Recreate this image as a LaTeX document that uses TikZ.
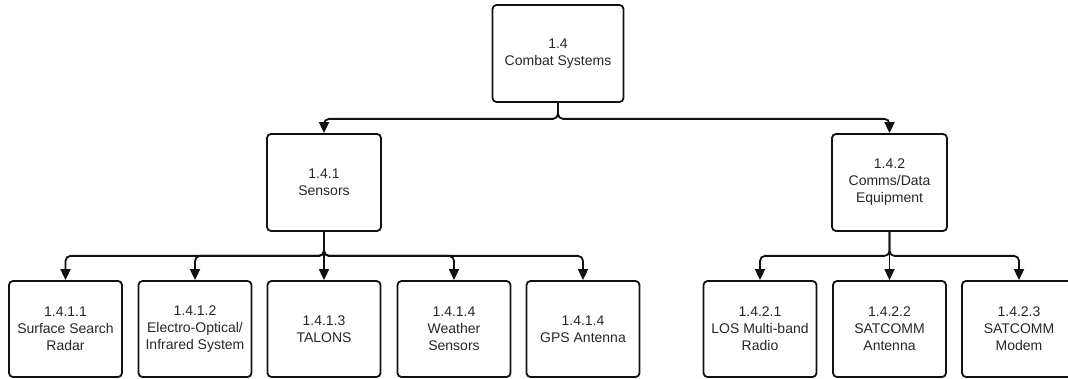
\documentclass[tikz,border=0pt]{standalone}
\usepackage{fontspec}
\setmainfont{Liberation Sans}
\usetikzlibrary{arrows.meta}
\definecolor{textgray}{HTML}{262626}
\definecolor{linecol}{HTML}{111111}
\begin{document}
\begin{tikzpicture}[x=1pt,y=-1pt,
  box/.style={draw=linecol, line width=1.8pt, rounded corners=4pt,
    minimum width=113pt, minimum height=96pt, align=center,
    font=\fontsize{14}{17}\selectfont, text=textgray, inner sep=1pt},
  conn/.style={draw=linecol, line width=1.8pt, rounded corners=5pt,
    -{Triangle[length=11pt,width=10pt]}}]
\useasboundingbox (0,0) rectangle (1068,379);
\clip (0,0) rectangle (1068,379);
% level 0
\node[box, minimum width=131pt, minimum height=97pt] (top) at (558,53.5) {1.4\\Combat Systems};
% level 1
\node[box, minimum width=114pt, minimum height=97pt] (sen) at (324,182.5) {1.4.1\\Sensors};
\node[box, minimum width=115pt, minimum height=97pt] (com) at (889.5,182.5) {1.4.2\\Comms/Data\\Equipment};
% level 2
\node[box] (b1) at (65.5,329) {1.4.1.1\\Surface Search\\Radar};
\node[box] (b2) at (195,329) {1.4.1.2\\Electro-Optical/\\Infrared System};
\node[box] (b3) at (324,329) {1.4.1.3\\TALONS};
\node[box] (b4) at (454,329) {1.4.1.4\\Weather\\Sensors};
\node[box] (b5) at (583,329) {1.4.1.4\\GPS Antenna};
\node[box] (c1) at (760,329) {1.4.2.1\\LOS Multi-band\\Radio};
\node[box] (c2) at (889.5,329) {1.4.2.2\\SATCOMM\\Antenna};
\node[box, minimum width=114pt] (c3) at (1019,329) {1.4.2.3\\SATCOMM\\Modem};
% connectors
\draw[conn] (top.south) -- ++(0,16) -| (sen.north);
\draw[conn] (top.south) -- ++(0,16) -| (com.north);
\draw[conn] (sen.south) -- ++(0,24) -| (b1.north);
\draw[conn] (sen.south) -- ++(0,24) -| (b2.north);
\draw[conn] (sen.south) -- (b3.north);
\draw[conn] (sen.south) -- ++(0,24) -| (b4.north);
\draw[conn] (sen.south) -- ++(0,24) -| (b5.north);
\draw[conn] (com.south) -- ++(0,24) -| (c1.north);
\draw[conn] (com.south) -- (c2.north);
\draw[conn] (com.south) -- ++(0,24) -| (c3.north);
\end{tikzpicture}
\end{document}
